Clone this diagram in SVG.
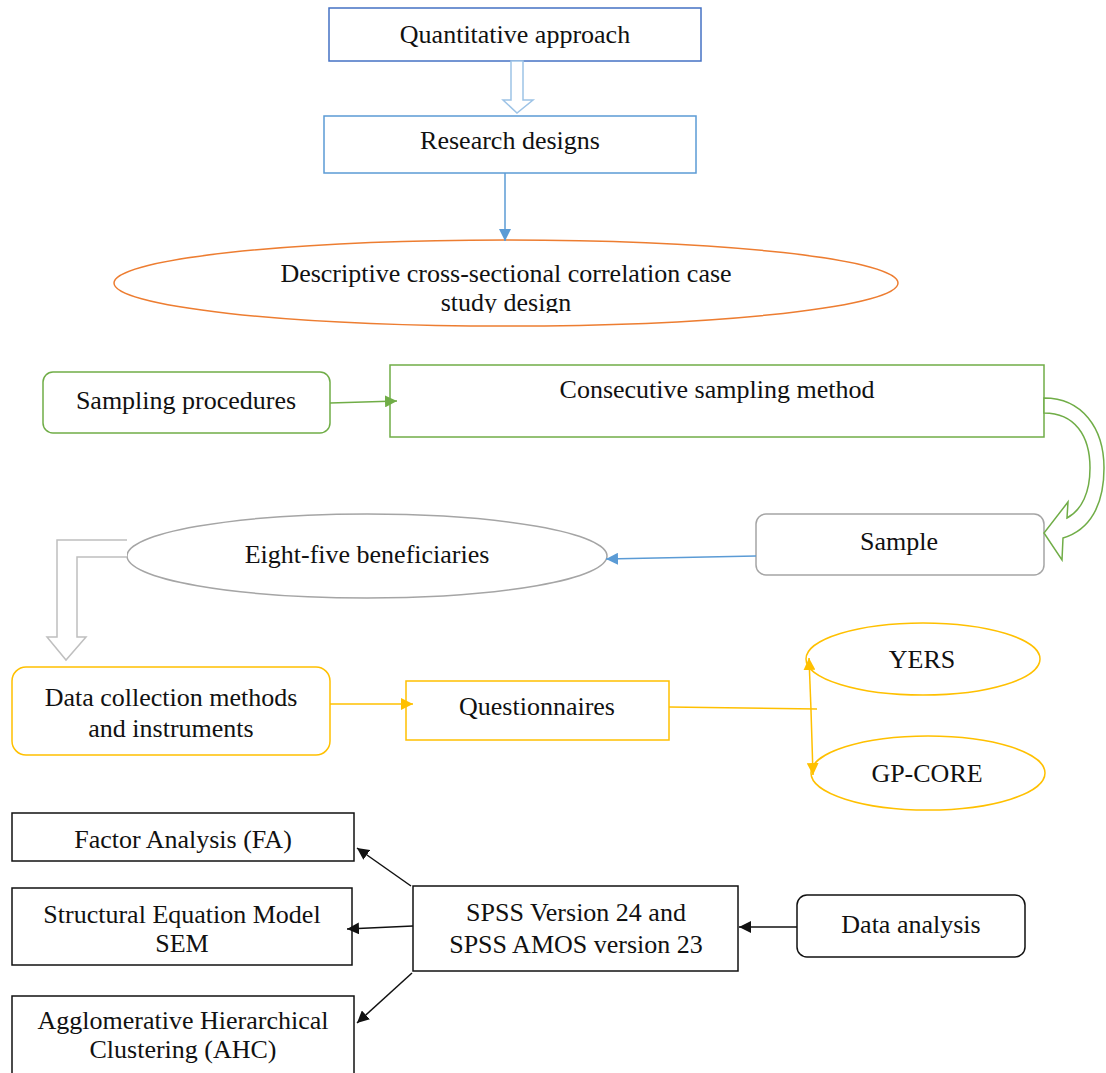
<svg xmlns="http://www.w3.org/2000/svg" width="1106" height="1073" viewBox="0 0 1106 1073">
<style>
text{font-family:"Liberation Serif","Times New Roman",serif;font-size:26px;fill:#111;text-anchor:middle}
.n{fill:#fff;stroke-width:1.5}
.c{fill:none;stroke-width:1.5}
</style>
<defs>
<marker id="aBlue" markerUnits="userSpaceOnUse" markerWidth="14" markerHeight="12" refX="12" refY="6" orient="auto"><path d="M0,0 L12,6 L0,12 Z" fill="#5B9BD5"/></marker>
<marker id="aGreen" markerUnits="userSpaceOnUse" markerWidth="14" markerHeight="12" refX="12" refY="6" orient="auto"><path d="M0,0 L12,6 L0,12 Z" fill="#70AD47"/></marker>
<marker id="aYel" markerUnits="userSpaceOnUse" markerWidth="14" markerHeight="12" refX="12" refY="6" orient="auto"><path d="M0,0 L12,6 L0,12 Z" fill="#FFC000"/></marker>
<marker id="aBlk" markerUnits="userSpaceOnUse" markerWidth="14" markerHeight="12" refX="12" refY="6" orient="auto"><path d="M0,0 L12,6 L0,12 Z" fill="#111"/></marker>
<clipPath id="clipEll"><rect x="100" y="230" width="820" height="83"/></clipPath>
</defs>

<g id="n-quant"><rect class="n" x="329" y="8" width="372" height="53" stroke="#4472C4"/><text x="515" y="43">Quantitative approach</text></g>
<g id="n-research"><rect class="n" x="324" y="116" width="372" height="57" stroke="#5B9BD5"/><text x="510" y="149">Research designs</text></g>
<g id="n-descriptive"><ellipse class="n" cx="506" cy="283" rx="392" ry="43" stroke="#ED7D31"/><g clip-path="url(#clipEll)"><text x="506" y="282">Descriptive cross-sectional correlation case</text><text x="506" y="311">study design</text></g></g>
<g id="n-sampproc"><rect class="n" x="43" y="372" width="287" height="61" rx="10" stroke="#70AD47"/><text x="186" y="409">Sampling procedures</text></g>
<g id="n-consec"><rect class="n" x="390" y="365" width="654" height="72" stroke="#70AD47"/><text x="717" y="398">Consecutive sampling method</text></g>
<g id="n-sample"><rect class="n" x="756" y="514" width="288" height="61" rx="10" stroke="#A5A5A5"/><text x="899" y="550">Sample</text></g>
<g id="n-eightfive"><ellipse class="n" cx="367" cy="556" rx="240" ry="42" stroke="#A5A5A5"/><text x="367" y="563">Eight-five beneficiaries</text></g>
<g id="n-datacoll"><rect class="n" x="12" y="667" width="318" height="88" rx="14" stroke="#FFC000"/><text x="171" y="706">Data collection methods</text><text x="171" y="737">and instruments</text></g>
<g id="n-quest"><rect class="n" x="406" y="681" width="263" height="59" stroke="#FFC000"/><text x="537" y="715">Questionnaires</text></g>
<g id="n-yers"><ellipse class="n" cx="923" cy="659" rx="117" ry="36" stroke="#FFC000"/><text x="922" y="668">YERS</text></g>
<g id="n-gpcore"><ellipse class="n" cx="928" cy="773" rx="117" ry="37" stroke="#FFC000"/><text x="927" y="782">GP-CORE</text></g>
<g id="n-fa"><rect class="n" x="12" y="813" width="342" height="48" stroke="#111" stroke-width="1.2"/><text x="183" y="848">Factor Analysis (FA)</text></g>
<g id="n-sem"><rect class="n" x="12" y="888" width="340" height="77" stroke="#111" stroke-width="1.2"/><text x="182" y="923">Structural Equation Model</text><text x="182" y="952">SEM</text></g>
<g id="n-ahc"><rect class="n" x="12" y="996" width="342" height="90" stroke="#111" stroke-width="1.2"/><text x="183" y="1029">Agglomerative Hierarchical</text><text x="183" y="1058">Clustering (AHC)</text></g>
<g id="n-spss"><rect class="n" x="413" y="886" width="325" height="85" stroke="#111" stroke-width="1.2"/><text x="576" y="921">SPSS Version 24 and</text><text x="576" y="953">SPSS AMOS version 23</text></g>
<g id="n-dataan"><rect class="n" x="797" y="895" width="228" height="62" rx="10" stroke="#111" stroke-width="1.2"/><text x="911" y="933">Data analysis</text></g>

<g id="connectors">
<path d="M511,61 L523,61 L523,100 L533,100 L517,113 L503,100 L511,100 Z" fill="#fff" stroke="#9DC3E6" stroke-width="1.5"/>
<line class="c" x1="505" y1="173" x2="505" y2="241" stroke="#5B9BD5" marker-end="url(#aBlue)"/>
<line class="c" x1="330" y1="403" x2="397" y2="401" stroke="#70AD47" marker-end="url(#aGreen)"/>
<path d="M1044,398 C1082,398 1104,428 1104,468 C1104,505 1090,530 1063,538 L1062,560 L1044,533 L1068,502 L1067,518 C1082,510 1090,492 1090,468 C1090,436 1075,413 1044,413 Z" fill="#fff" stroke="#70AD47" stroke-width="1.5"/>
<line class="c" x1="756" y1="556" x2="606" y2="559" stroke="#5B9BD5" marker-end="url(#aBlue)"/>
<path d="M127,540 L57,540 L57,637 L47,637 L66,660 L86,637 L77,637 L77,557 L127,557" fill="#fff" stroke="#BFBFBF" stroke-width="1.5"/>
<line class="c" x1="330" y1="704" x2="413" y2="704" stroke="#FFC000" marker-end="url(#aYel)"/>
<line class="c" x1="669" y1="707" x2="817" y2="709" stroke="#FFC000"/>
<line class="c" x1="811" y1="710" x2="809" y2="658" stroke="#FFC000" marker-end="url(#aYel)"/>
<line class="c" x1="811" y1="710" x2="813" y2="775" stroke="#FFC000" marker-end="url(#aYel)"/>
<line class="c" x1="797" y1="927" x2="739" y2="927" stroke="#111" marker-end="url(#aBlk)"/>
<line class="c" x1="411" y1="886" x2="357" y2="848" stroke="#111" marker-end="url(#aBlk)"/>
<line class="c" x1="413" y1="926" x2="347" y2="929" stroke="#111" marker-end="url(#aBlk)"/>
<line class="c" x1="412" y1="973" x2="357" y2="1023" stroke="#111" marker-end="url(#aBlk)"/>
</g>
</svg>
